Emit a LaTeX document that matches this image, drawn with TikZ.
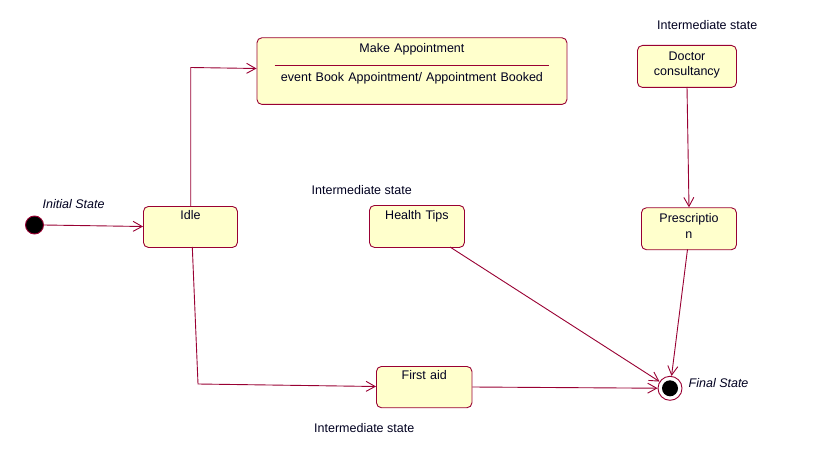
\documentclass[tikz,border=0pt]{standalone}
\usepackage{fontspec}
\setmainfont{Liberation Sans}
\usetikzlibrary{arrows.meta,calc}
\definecolor{edgec}{HTML}{990033}
\definecolor{fillc}{HTML}{FFFFCC}
\definecolor{txtc}{HTML}{000020}
\begin{document}
\begin{tikzpicture}[x=1pt,y=-1pt,
  every node/.style={font=\fontsize{12.5}{15.5}\selectfont, text=txtc},
  state/.style={draw=edgec, fill=fillc, line width=0.9pt, rounded corners=5pt,
    anchor=north west, inner sep=0pt, align=center},
  lbl/.style={anchor=base west, inner sep=0pt},
  flow/.style={draw=edgec, line width=0.9pt, -{Straight Barb[length=9pt,width=10pt]}}]
\useasboundingbox (0,0) rectangle (821,465);
\fill[white] (0,0) rectangle (821,465);

% states
\node[state, text width=94pt, text height=13.5pt, text depth=27.5pt] (idle) at (143,206) {Idle};
\node[state, text width=310pt, text height=14.4pt, text depth=52.3pt] (ma) at (256.5,37.3)
  {Make Appointment\\[13.5pt]event Book Appointment/ Appointment Booked};
\draw[edgec, line width=0.9pt] ($(ma.north west)+(18,28.5)$) coordinate (rl) -- ($(ma.north east)+(-18,28.5)$) coordinate (rr);
\node[state, text width=99pt, text height=15pt, text depth=27pt] (doc) at (637,45) {Doctor\\consultancy};
\node[state, text width=95pt, text height=15pt, text depth=27pt] (pre) at (641,207.3) {Prescriptio\\n};
\node[state, text width=95pt, text height=14.3pt, text depth=27.7pt] (ht) at (369,205) {Health Tips};
\node[state, text width=95.5pt, text height=13.3pt, text depth=28pt] (fa) at (376,366) {First aid};

% pseudo states
\node[circle, fill=black, draw=edgec, line width=0.9pt, minimum size=18pt, inner sep=0pt] (init) at (34.5,225) {};
\node[circle, draw=edgec, fill=white, line width=0.9pt, minimum size=24pt, inner sep=0pt] (fin) at (670,388.3) {};
\node[circle, fill=black, minimum size=16pt, inner sep=0pt] (finin) at (670,388.3) {};

% labels
\node[lbl, font=\fontsize{12.5}{15.5}\selectfont\itshape] (l1) at (42.5,208.3) {Initial State};
\node[lbl, font=\fontsize{12.5}{15.5}\selectfont\itshape] (l2) at (688.5,387.3) {Final State};
\node[lbl] (l3) at (657,30) {Intermediate state};
\node[lbl] (l4) at (311.5,194) {Intermediate state};
\node[lbl] (l5) at (314,432.3) {Intermediate state};

% connectors
\draw[flow] (init.east) -- (idle.west |- 0,226.5);
\coordinate (b1) at (190.7,67.5);
\draw[flow] (idle.north -| b1) -- (b1) -- (ma.west |- 0,68.5);
\coordinate (b2) at (198,384);
\coordinate (s2) at (192.3,247);
\draw[flow] (s2) -- (b2) -- (fa.west |- 0,386.5);
\coordinate (d1) at (687,87);
\draw[flow] (d1) -- (689,207.3);
\coordinate (h1) at (450,247);
\draw[flow] (h1) -- (fin);
\coordinate (p1) at (687.5,249.3);
\draw[flow] (p1) -- (fin);
\draw[flow] (fa.east |- 0,387) -- (fin);
\end{tikzpicture}
\end{document}
